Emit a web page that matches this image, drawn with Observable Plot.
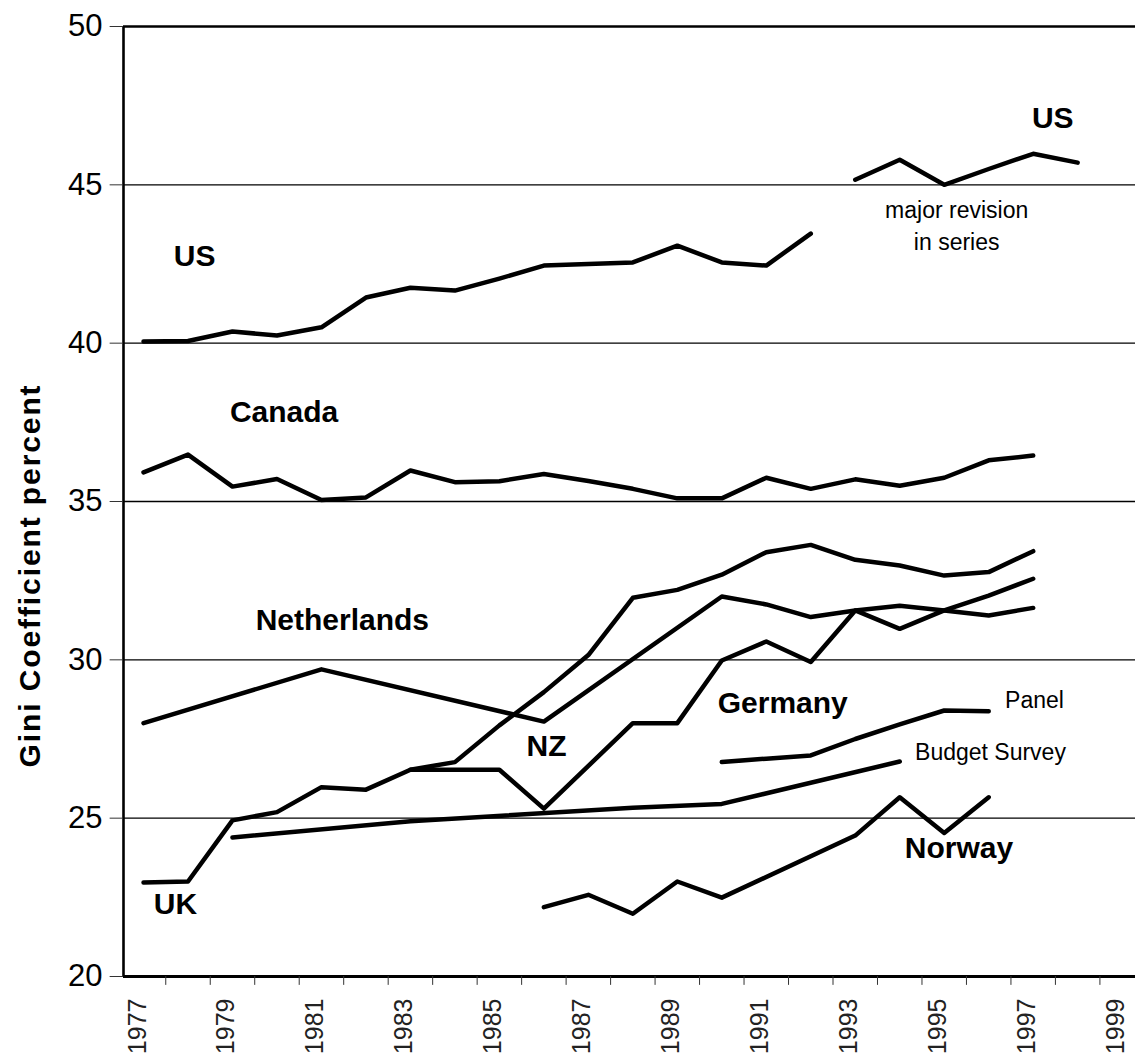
<!DOCTYPE html>
<html><head><meta charset="utf-8">
<script src="https://cdn.jsdelivr.net/npm/d3@7"></script>
<script src="https://cdn.jsdelivr.net/npm/@observablehq/plot@0.6"></script>
<style>
html,body{margin:0;padding:0;background:#fff;overflow:hidden;}
</style></head><body><div id="chart"></div>
<script>
// ---- data (Gini coefficient, percent) ----
const ukYears = [1977,1978,1979,1980,1981,1982,1983,1984,1985,1986,1987,1988,1989,1990,1991,1992,1993,1994,1995,1996,1997];
const ukGini  = [22.97,23.0,24.93,25.19,25.98,25.9,26.53,26.77,27.93,28.98,30.15,31.96,32.21,32.69,33.40,33.63,33.16,32.98,32.66,32.77,33.43];

const canadaYears = [1977,1978,1979,1980,1981,1982,1983,1984,1985,1986,1987,1988,1989,1990,1991,1992,1993,1994,1995,1996,1997];
const canadaGini  = [35.92,36.48,35.47,35.71,35.05,35.13,35.98,35.61,35.64,35.87,35.65,35.4,35.1,35.1,35.75,35.4,35.7,35.5,35.75,36.3,36.45];

const usOldYears = [1977,1978,1979,1980,1981,1982,1983,1984,1985,1986,1987,1988,1989,1990,1991,1992];
const usOldGini  = [40.05,40.07,40.37,40.24,40.5,41.44,41.75,41.66,42.04,42.45,42.5,42.55,43.08,42.55,42.45,43.46];

const usNewYears = [1993,1994,1995,1996,1997,1998];
const usNewGini  = [45.16,45.79,45.0,45.5,45.98,45.7];

const netherlandsYears = [1977,1981,1986,1990,1991,1992,1993,1994,1995,1996,1997];
const netherlandsGini  = [28.0,29.7,28.05,32.0,31.75,31.35,31.56,31.71,31.56,31.4,31.64];

const nzYears = [1983,1984,1985,1986,1988,1989,1990,1991,1992,1993,1994,1995,1996,1997];
const nzGini  = [26.53,26.53,26.53,25.3,28.0,28.0,29.98,30.58,29.93,31.56,30.98,31.56,32.03,32.56];

const germanyBudgetYears = [1979,1983,1988,1990,1994];
const germanyBudgetGini  = [24.39,24.9,25.33,25.45,26.79];

const germanyPanelYears = [1990,1991,1992,1993,1994,1995,1996];
const germanyPanelGini  = [26.77,26.88,26.98,27.5,27.96,28.4,28.38];

const norwayYears = [1986,1987,1988,1989,1990,1993,1994,1995,1996];
const norwayGini  = [22.19,22.58,21.98,23.0,22.49,24.45,25.66,24.53,25.66];

const yTicks = [20,25,30,35,40,45,50];
const gridValues = [25,30,35,40,45];
const xTickLabels = [1977,1979,1981,1983,1985,1987,1989,1991,1993,1995,1997,1999];
const xTickBounds = [1977.5,1978.5,1979.5,1980.5,1981.5,1982.5,1983.5,1984.5,1985.5,1986.5,1987.5,1988.5,1989.5,1990.5,1991.5,1992.5,1993.5,1994.5,1995.5,1996.5,1997.5,1998.5];

const boldLabels = [
  {text: "US", x: 1978.15, y: 42.75},
  {text: "US", x: 1997.44, y: 47.11},
  {text: "Canada", x: 1980.16, y: 37.80},
  {text: "Netherlands", x: 1981.47, y: 31.23},
  {text: "NZ", x: 1986.06, y: 27.28},
  {text: "Germany", x: 1991.37, y: 28.61},
  {text: "Norway", x: 1995.33, y: 24.03},
  {text: "UK", x: 1977.72, y: 22.29}
];
const plainLabels = [
  {text: "major revision", x: 1995.28, y: 44.20},
  {text: "in series", x: 1995.28, y: 43.16},
  {text: "Panel", x: 1997.03, y: 28.71},
  {text: "Budget Survey", x: 1996.04, y: 27.06}
];
const yTitle = "Gini Coefficient percent";

// ---- build table ----
function rows(name, years, vals) { return years.map((yr, i) => ({series: name, year: yr, gini: vals[i]})); }
const table = [].concat(
  rows("UK", ukYears, ukGini),
  rows("Canada", canadaYears, canadaGini),
  rows("US (old)", usOldYears, usOldGini),
  rows("US (new)", usNewYears, usNewGini),
  rows("Netherlands", netherlandsYears, netherlandsGini),
  rows("NZ", nzYears, nzGini),
  rows("Germany Budget Survey", germanyBudgetYears, germanyBudgetGini),
  rows("Germany Panel", germanyPanelYears, germanyPanelGini),
  rows("Norway", norwayYears, norwayGini)
);

const X0 = 1976.55;
const chart = Plot.plot({
  width: 1135, height: 1058,
  marginLeft: 123, marginRight: 0, marginTop: 26, marginBottom: 82,
  x: {domain: [X0, 1999.3], axis: null},
  y: {domain: [20, 50], axis: null},
  style: {fontFamily: "'Liberation Sans', Arial, sans-serif", background: "#fff", color: "#000"},
  marks: [
    Plot.ruleY(gridValues, {stroke: "#000", strokeWidth: 1.4}),
    Plot.ruleY([50], {stroke: "#000", strokeWidth: 2.6}),
    Plot.ruleY([20], {stroke: "#000", strokeWidth: 3.2}),
    Plot.ruleX([X0], {y1: 20, y2: 50, stroke: "#000", strokeWidth: 2.6}),
    Plot.ruleY(yTicks, {y: d => d, x1: X0, x2: X0 - 0.3, stroke: "#333", strokeWidth: 1}),
    Plot.text(yTicks, {x: X0, y: d => d, text: d => String(d), textAnchor: "end", dx: -21, fontSize: 31, fill: "#000"}),
    Plot.ruleX(xTickBounds, {x: d => d, y1: 20, y2: 19.72, stroke: "#333", strokeWidth: 1}),
    Plot.text(xTickLabels, {x: d => d, y: 20, text: d => String(d), rotate: -90, textAnchor: "end", dy: 22, dx: -6, fontSize: 25, fill: "#222"}),
    Plot.line(table, {x: "year", y: "gini", z: "series", stroke: "#000", strokeWidth: 4.5}),
    Plot.text(boldLabels, {x: "x", y: "y", text: "text", fontSize: 30, fontWeight: "bold", fill: "#000"}),
    Plot.text(plainLabels, {x: "x", y: "y", text: "text", fontSize: 23, fill: "#000"}),
    Plot.text([yTitle], {frameAnchor: "left", textAnchor: "middle", dx: -93, dy: 74, rotate: -90, fontSize: 30, fontWeight: "bold", fill: "#000", className: "ytitle"})
  ]
});
chart.querySelectorAll(".ytitle text").forEach(t => t.setAttribute("letter-spacing", "1.9"));
document.getElementById("chart").appendChild(chart);
</script>
</body></html>
